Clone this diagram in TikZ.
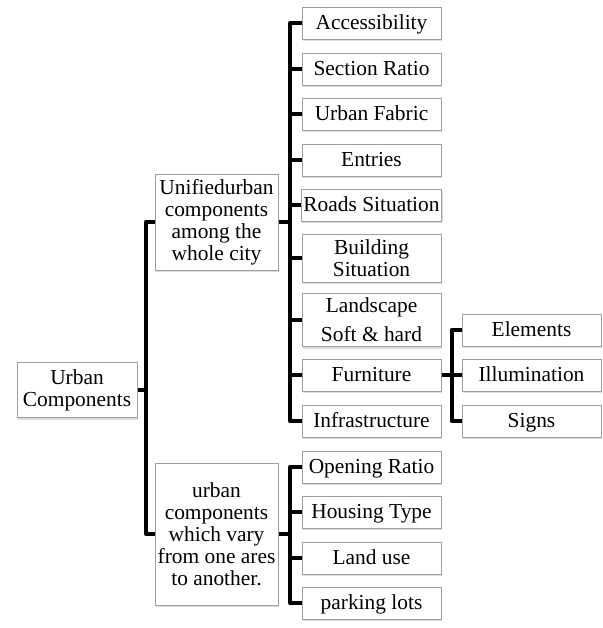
\documentclass[tikz,border=0pt]{standalone}
\usepackage{fontspec}
\setmainfont{Liberation Serif}
\usetikzlibrary{calc,shadows}
\tikzset{
  box/.style={draw=gray!75, line width=0.5pt, fill=white, align=center,
    inner sep=1pt, font=\fontsize{10.7}{11}\selectfont,
    drop shadow={shadow xshift=0.5pt, shadow yshift=-1.2pt, fill=gray!45, opacity=0.6}},
  leafbox/.style={box, minimum width=69.5pt, minimum height=16pt},
  oneline/.style={leafbox, text height=0.66em, text depth=0pt},
  link/.style={line width=2pt, line join=round,
    to path={-| ($(\tikztostart)!0.5!(\tikztotarget)$) |- (\tikztotarget)}}
}
\begin{document}
\begin{tikzpicture}[x=0.5pt, y=-0.5pt]
\useasboundingbox (0,0) rectangle (602,628);
% root and first level
\node[box, minimum width=60pt, minimum height=27.5pt] (root) at (77,390) {Urban\\Components};
\node[box, minimum width=61.5pt, minimum height=48pt] (unified) at (216.5,222)
  {Unifiedurban\\components\\among the\\whole city};
\node[box, minimum width=61.5pt, minimum height=71pt] (vary) at (216.5,534)
  {urban\\components\\which vary\\from one ares\\to another.};
% second level, unified components
\node[oneline] (access) at (371.5,23) {Accessibility};
\node[oneline] (section) at (371.5,69) {Section Ratio};
\node[oneline] (fabric) at (371.5,114) {Urban Fabric};
\node[oneline] (entries) at (371.5,160) {Entries};
\node[oneline] (roads) at (371.5,205) {Roads Situation};
\node[leafbox, minimum height=24pt] (building) at (371.5,258) {Building\\Situation};
\node[leafbox, minimum height=26.5pt, inner sep=0.5pt] (landscape) at (371.5,320) {Landscape\\[3.5pt]Soft \& hard};
\node[oneline] (furniture) at (371.5,375) {Furniture};
\node[oneline] (infra) at (371.5,421) {Infrastructure};
% third level, furniture
\node[oneline] (elements) at (531.5,330) {Elements};
\node[oneline] (illum) at (531.5,375) {Illumination};
\node[oneline] (signs) at (531.5,421) {Signs};
% second level, varying components
\node[oneline] (opening) at (371.5,467) {Opening Ratio};
\node[oneline] (housing) at (371.5,512) {Housing Type};
\node[oneline] (landuse) at (371.5,558) {Land use};
\node[oneline] (parking) at (371.5,603) {parking lots};
% connectors
\foreach \c in {unified,vary}
  \draw[link] (root.east) to (\c.west);
\foreach \c in {access,section,fabric,entries,roads,building,landscape,furniture,infra}
  \draw[link] (unified.east) to (\c.west);
\foreach \c in {elements,illum,signs}
  \draw[link] (furniture.east) to (\c.west);
\foreach \c in {opening,housing,landuse,parking}
  \draw[link] (vary.east) to (\c.west);
\end{tikzpicture}
\end{document}
